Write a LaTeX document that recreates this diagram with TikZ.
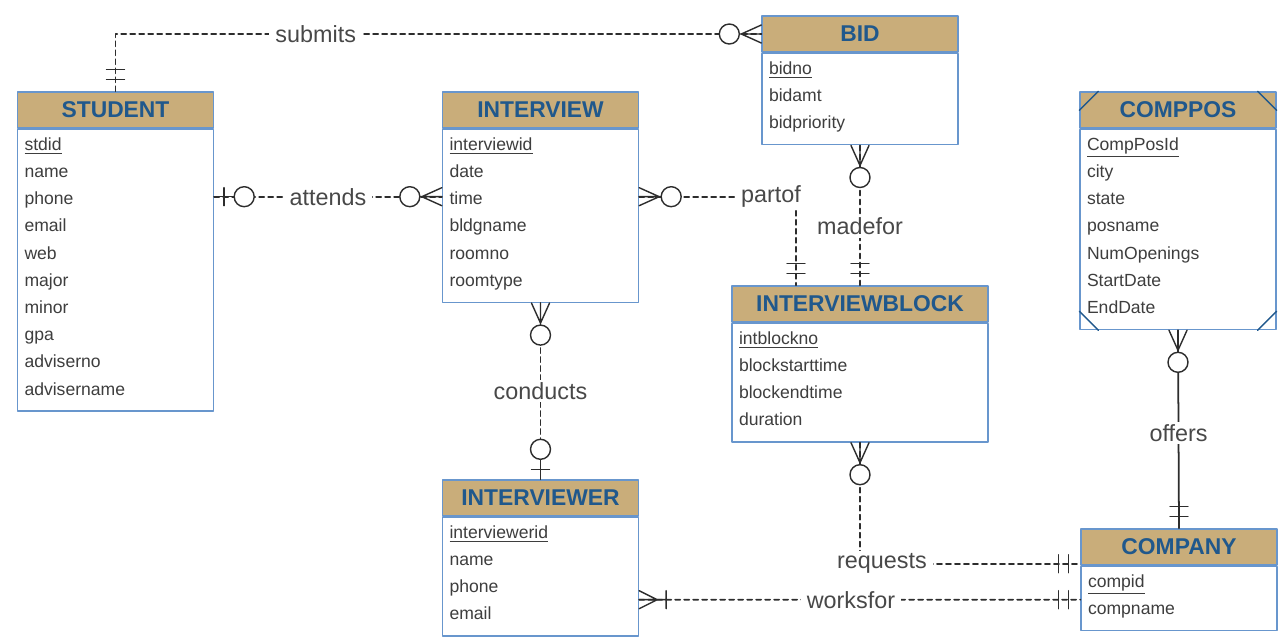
\documentclass[tikz,border=0pt]{standalone}
\usepackage{fontspec}
\setmainfont{Liberation Sans}
\usetikzlibrary{positioning}
\definecolor{headtan}{RGB}{201,173,122}
\definecolor{headblue}{RGB}{32,88,140}
\definecolor{boxblue}{RGB}{104,150,205}
\definecolor{attrgray}{RGB}{62,62,62}
\definecolor{relgray}{RGB}{45,45,45}
\definecolor{lblgray}{RGB}{72,72,72}
\tikzset{
  ehead/.style={draw=boxblue, line width=0.8pt, fill=headtan, text=headblue,
    font=\fontsize{13}{15}\selectfont\bfseries, minimum width=3.92cm, minimum height=0.72cm, inner sep=0pt},
  ebody/.style={draw=boxblue, line width=0.8pt, fill=white, text=attrgray,
    font=\fontsize{10}{15.48}\selectfont, align=left, text width=3.64cm, inner xsep=0.14cm, inner ysep=0.1cm,
    execute at begin node={\rule{0pt}{0.32cm}}, execute at end node={\rule[-0.22cm]{0pt}{0pt}}},
  rel/.style={draw=relgray, line width=1pt, dash pattern=on 0.1cm off 0.08cm},
  relsolid/.style={draw=relgray, line width=1pt},
  sym/.style={draw=relgray, line width=0.8pt},
  lbl/.style={fill=white, text=lblgray, font=\fontsize{13.3}{15}\selectfont, inner xsep=0.12cm, inner ysep=0.05cm},
  pics/onlyone/.style={code={
    \draw[sym] (12,-9) -- (12,9) (22,-9) -- (22,9);
  }},
  pics/zeroone/.style={code={
    \draw[sym] (0,0) -- (20,0) (10,-9) -- (10,9);
    \draw[sym, fill=white] (30,0) circle[radius=0.2cm];
  }},
  pics/zeromany/.style={code={
    \draw[sym] (0,0) -- (22,0) (20,0) -- (0,-9) (20,0) -- (0,9);
    \draw[sym, fill=white] (32,0) circle[radius=0.2cm];
  }},
  pics/onemany/.style={code={
    \draw[sym] (0,0) -- (27,0) (18,0) -- (0,-9) (18,0) -- (0,9) (27,-9) -- (27,9);
  }},
}
\begin{document}
\begin{tikzpicture}[x=0.02cm, y=-0.02cm, line join=round, line cap=round]
\fill[white] (0,0) rectangle (1286,640);
\useasboundingbox (0,0) rectangle (1286,640);

\node[ehead] (student) at (115.5,110) {STUDENT};
\node[ebody, below=0pt of student] (studentb) {\underline{stdid}\\name\\phone\\email\\web\\major\\minor\\gpa\\adviserno\\advisername};

\node[ehead] (interview) at (540.5,110) {INTERVIEW};
\node[ebody, below=0pt of interview] (interviewb) {\underline{interviewid}\\date\\time\\bldgname\\roomno\\roomtype};

\node[ehead] (bid) at (860,34) {BID};
\node[ebody, below=0pt of bid] (bidb) {\underline{bidno}\\bidamt\\bidpriority};

\node[ehead] (comppos) at (1178,110) {COMPPOS};
\node[ebody, below=0pt of comppos] (compposb) {\underline{CompPosId}\\city\\state\\posname\\NumOpenings\\StartDate\\EndDate};
\draw[headblue, line width=0.8pt]
  ([yshift=-0.38cm]comppos.north west) -- ([xshift=0.38cm]comppos.north west)
  ([yshift=-0.38cm]comppos.north east) -- ([xshift=-0.38cm]comppos.north east)
  ([yshift=0.38cm]compposb.south west) -- ([xshift=0.38cm]compposb.south west)
  ([yshift=0.38cm]compposb.south east) -- ([xshift=-0.38cm]compposb.south east);

\node[ehead, minimum width=5.12cm] (ib) at (860,304) {INTERVIEWBLOCK};
\node[ebody, text width=4.84cm, below=0pt of ib] (ibb) {\underline{intblockno}\\blockstarttime\\blockendtime\\duration};

\node[ehead] (interviewer) at (540.5,498) {INTERVIEWER};
\node[ebody, below=0pt of interviewer] (interviewerb) {\underline{interviewerid}\\name\\phone\\email};

\node[ehead] (company) at (1179,547) {COMPANY};
\node[ebody, below=0pt of company] (companyb) {\underline{compid}\\compname};

\draw[rel] (student.north) |- node[lbl, pos=0.655] {submits} (bid.west);
\draw[rel] ([yshift=-1.36cm]studentb.north east) -- node[lbl] {attends} ([yshift=-1.36cm]interviewb.north west);
\draw[rel] ([yshift=-1.36cm]interviewb.north east) -| node[lbl, pos=0.5, xshift=-0.5cm] {partof} ([xshift=-1.28cm]ib.north);
\draw[rel] (bidb.south) -- node[lbl, pos=0.58] {madefor} (ib.north);
\draw[rel] (interviewb.south) -- node[lbl, pos=0.5] {conducts} (interviewer.north);
\draw[rel] (ibb.south) |- node[lbl, pos=0.5, xshift=0.44cm] {requests} ([yshift=0.04cm]companyb.north west);
\draw[rel] ([yshift=-1.66cm]interviewerb.north east) -- node[lbl, pos=0.48] {worksfor} ([yshift=-0.68cm]companyb.north west);
\draw[relsolid] (compposb.south) -- node[lbl, pos=0.52] {offers} (company.north);

\pic[rotate=90] at (student.north) {onlyone};
\pic[rotate=180] at (bid.west) {zeromany};
\pic at ([yshift=-1.36cm]studentb.north east) {zeroone};
\pic[rotate=180] at ([yshift=-1.36cm]interviewb.north west) {zeromany};
\pic at ([yshift=-1.36cm]interviewb.north east) {zeromany};
\pic[rotate=90] at ([xshift=-1.28cm]ib.north) {onlyone};
\pic[rotate=270] at (bidb.south) {zeromany};
\pic[rotate=90] at (ib.north) {onlyone};
\pic[rotate=270] at (interviewb.south) {zeromany};
\pic[rotate=90] at (interviewer.north) {zeroone};
\pic[rotate=270] at (ibb.south) {zeromany};
\pic[rotate=180] at ([yshift=0.04cm]companyb.north west) {onlyone};
\pic at ([yshift=-1.66cm]interviewerb.north east) {onemany};
\pic[rotate=180] at ([yshift=-0.68cm]companyb.north west) {onlyone};
\pic[rotate=270] at (compposb.south) {zeromany};
\pic[rotate=90] at (company.north) {onlyone};
\end{tikzpicture}
\end{document}
